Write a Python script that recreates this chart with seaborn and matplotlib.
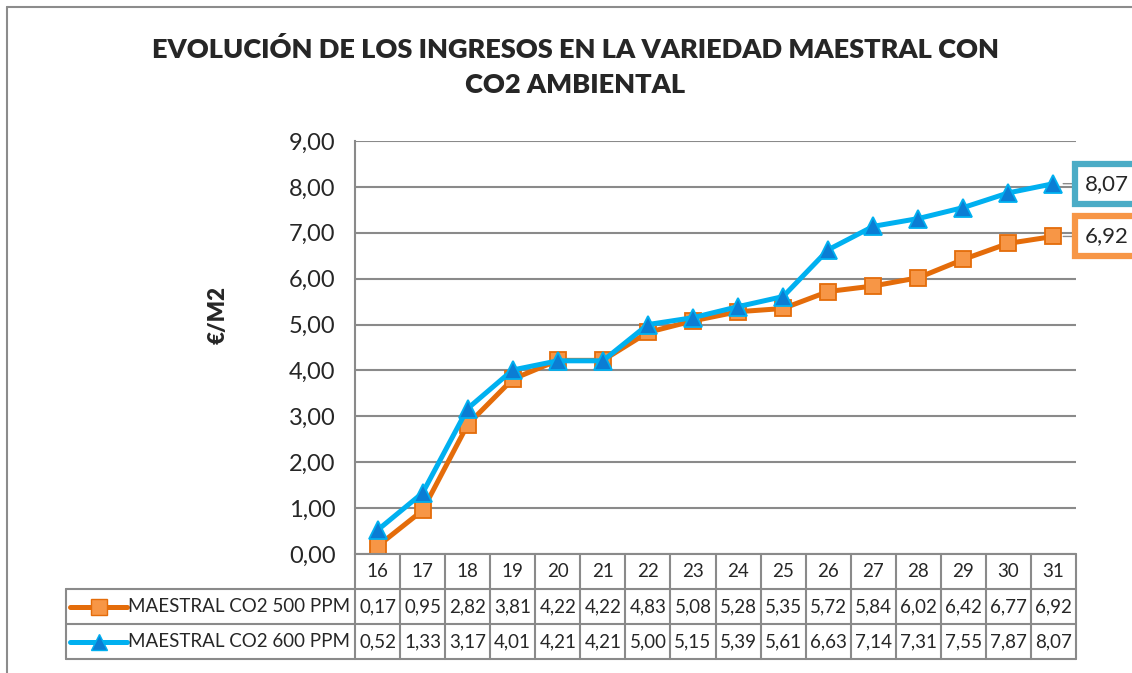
import numpy as np
import pandas as pd
import seaborn as sns
import matplotlib.pyplot as plt
from matplotlib.lines import Line2D

# datos
dias = [16, 17, 18, 19, 20, 21, 22, 23, 24, 25, 26, 27, 28, 29, 30, 31]
co2_500 = [0.17, 0.95, 2.82, 3.81, 4.22, 4.22, 4.83, 5.08, 5.28, 5.35, 5.72, 5.84, 6.02, 6.42, 6.77, 6.92]
co2_600 = [0.52, 1.33, 3.17, 4.01, 4.21, 4.21, 5.00, 5.15, 5.39, 5.61, 6.63, 7.14, 7.31, 7.55, 7.87, 8.07]
series = ["MAESTRAL CO2 500 PPM", "MAESTRAL CO2 600 PPM"]
titulo = "EVOLUCIÓN DE LOS INGRESOS EN LA VARIEDAD MAESTRAL CON\nCO2 AMBIENTAL"

W, H = 1132, 673
sns.set_theme(style="white")
plt.rcParams['font.family'] = ['Lato', 'DejaVu Sans']

fig = plt.figure(figsize=(W / 100, H / 100), dpi=100)

def px_axes(x0, y0, x1, y1):
    return fig.add_axes([x0 / W, 1 - y1 / H, (x1 - x0) / W, (y1 - y0) / H])

gris = '#8a8a8a'
naranja_l, naranja_f = '#E46C0A', '#F79646'
azul_l, azul_f = '#00B0F0', '#0B7DD4'

# borde del area del grafico (solo arriba e izquierda son visibles)
fig.add_artist(Line2D([7 / W, 1.0], [1 - 7 / H, 1 - 7 / H], transform=fig.transFigure,
                      color='#8c8c8c', lw=1.5))
fig.add_artist(Line2D([7 / W, 7 / W], [0, 1 - 7 / H], transform=fig.transFigure,
                      color='#8c8c8c', lw=1.5))

ax = px_axes(355, 141, 1076, 554)
idx = np.arange(len(dias))
df = pd.DataFrame({"idx": np.concatenate([idx, idx]),
                   "valor": co2_500 + co2_600,
                   "serie": [series[0]] * len(dias) + [series[1]] * len(dias)})

sns.lineplot(data=df[df.serie == series[0]], x="idx", y="valor", ax=ax, color=naranja_l,
             linewidth=3.6, marker='s', markersize=12, markerfacecolor=naranja_f,
             markeredgecolor=naranja_l, markeredgewidth=1.3, legend=False, zorder=3)
sns.lineplot(data=df[df.serie == series[1]], x="idx", y="valor", ax=ax, color=azul_l,
             linewidth=3.6, marker='^', markersize=13, markerfacecolor=azul_f,
             markeredgecolor=azul_l, markeredgewidth=1.3, legend=False, zorder=4)

ax.set_xlim(-0.5, len(dias) - 0.5)
ax.set_ylim(0, 9)
ax.set_yticks(np.arange(0, 10, 1))
ax.set_yticklabels([f"{v:.2f}".replace('.', ',') for v in range(10)], fontsize=17)
ax.tick_params(axis='y', length=0, pad=14)
ax.set_xticks([])
ax.set_xlabel("")
ax.set_ylabel("")
ax.yaxis.grid(True, color=gris, linewidth=1.5)
for s in ['top', 'right', 'bottom']:
    ax.spines[s].set_visible(False)
ax.spines['left'].set_color(gris)
ax.spines['left'].set_linewidth(1.5)

# etiquetas de datos al final
for val, col in [(co2_600[-1], '#4BACC6'), (co2_500[-1], naranja_f)]:
    ax.annotate(f"{val:.2f}".replace('.', ','), xy=(len(dias) - 1, val),
                xytext=(len(dias) - 0.5 + 0.19, val), textcoords='data',
                fontsize=16, va='center', ha='left', annotation_clip=False,
                bbox=dict(boxstyle='square,pad=0.45', fc='white', ec=col, lw=4.5),
                arrowprops=dict(arrowstyle='-', color=gris, lw=1, shrinkA=0, shrinkB=7))

fig.text(0.508, 1 - 67 / H, titulo, ha='center', va='center', fontsize=19.5,
         fontweight='heavy', linespacing=1.55)
fig.text(218 / W, 1 - 315 / H, "€/M2", rotation=90, ha='center', va='center',
         fontsize=16, fontweight='heavy')

# tabla de datos
tab = px_axes(66, 554, 1076, 659)
xl = -0.5 - (355 - 66) / 45.06
tab.set_xlim(xl, len(dias) - 0.5)
tab.set_ylim(0, 3)
tab.axis('off')
lw = 1.5
tab.plot([-0.5, len(dias) - 0.5], [3, 3], color=gris, lw=lw, clip_on=False)
for yy in [2, 1, 0]:
    tab.plot([xl, len(dias) - 0.5], [yy, yy], color=gris, lw=lw, clip_on=False)
tab.plot([xl, xl], [0, 2], color=gris, lw=lw, clip_on=False)
for k in range(len(dias) + 1):
    tab.plot([k - 0.5, k - 0.5], [0, 3], color=gris, lw=lw, clip_on=False)
fs = 13.5
for k, d in enumerate(dias):
    tab.text(k, 2.5, str(d), ha='center', va='center', fontsize=fs)
    tab.text(k, 1.5, f"{co2_500[k]:.2f}".replace('.', ','), ha='center', va='center', fontsize=fs)
    tab.text(k, 0.5, f"{co2_600[k]:.2f}".replace('.', ','), ha='center', va='center', fontsize=fs)
# leyenda en la tabla
lx0, lx1 = xl + 0.09, xl + 1.36
tab.add_line(Line2D([lx0, lx1], [1.5, 1.5], color=naranja_l, lw=3.6, clip_on=False))
tab.plot([(lx0 + lx1) / 2], [1.5], marker='s', markersize=11, color=naranja_f,
         markeredgecolor=naranja_l, clip_on=False)
tab.add_line(Line2D([lx0, lx1], [0.5, 0.5], color=azul_l, lw=3.6, clip_on=False))
tab.plot([(lx0 + lx1) / 2], [0.5], marker='^', markersize=11, color=azul_f,
         markeredgecolor=azul_l, clip_on=False)
for yy, nom in [(1.5, series[0]), (0.5, series[1])]:
    tab.text(lx1 + 0.02, yy, nom, ha='left', va='center', fontsize=fs)

fig.savefig("out.png", dpi=100)
